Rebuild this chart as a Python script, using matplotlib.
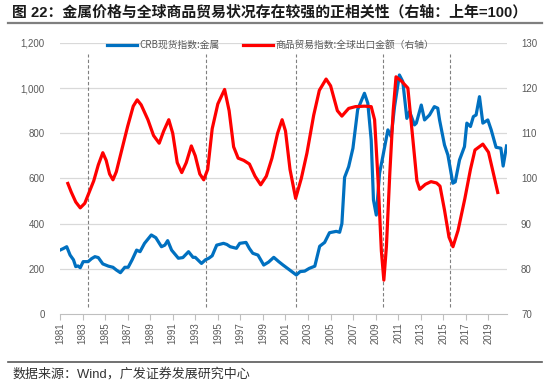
import matplotlib
matplotlib.use('Agg')
import matplotlib.pyplot as plt
from matplotlib.lines import Line2D

plt.rcParams['font.family'] = ['Liberation Sans', 'Noto Sans CJK SC', 'DejaVu Sans']

# CRB spot index: metals (left axis)
crb_year = [1981.0, 1981.3, 1981.6, 1981.9, 1982.2, 1982.4, 1982.6, 1982.8, 1983.06, 1983.5,
            1983.8, 1984.1, 1984.4, 1984.8, 1985.3, 1985.7, 1986.0, 1986.36, 1986.75, 1987.05,
            1987.4, 1987.8, 1988.1, 1988.5, 1989.1, 1989.5, 1990.0, 1990.3, 1990.55, 1990.9,
            1991.5, 1991.9, 1992.4, 1992.8, 1993.0, 1993.55, 1993.9, 1994.2, 1994.5, 1994.9,
            1995.5, 1995.8, 1996.1, 1996.65, 1996.94, 1997.5, 1997.8, 1998.1, 1998.56, 1999.07,
            1999.5, 1999.96, 2000.4, 2000.78, 2001.37, 2001.96, 2002.3, 2002.7, 2003.1, 2003.6,
            2004.03, 2004.47, 2004.9, 2005.5, 2005.8, 2006.0, 2006.24, 2006.6, 2006.98, 2007.4,
            2008.0, 2008.3, 2008.6, 2008.8, 2009.05, 2009.34, 2009.63, 2010.08, 2010.37, 2010.67,
            2011.1, 2011.4, 2011.76, 2012.0, 2012.44, 2012.6, 2013.04, 2013.33, 2013.77, 2014.2,
            2014.5, 2014.66, 2015.1, 2015.4, 2015.84, 2016.05, 2016.43, 2016.87, 2017.08, 2017.4,
            2017.66, 2017.9, 2018.2, 2018.5, 2018.94, 2019.24, 2019.67, 2020.1, 2020.3, 2020.6]
crb_value = [283, 290, 298, 261, 240, 210, 213, 205, 232, 232,
             245, 254, 250, 222, 212, 207, 195, 183, 207, 207,
             240, 283, 276, 313, 350, 338, 298, 305, 325, 283,
             247, 250, 276, 251, 251, 224, 240, 247, 258, 305,
             313, 308, 298, 291, 313, 317, 290, 269, 261, 217,
             230, 251, 232, 217, 195, 173, 188, 190, 202, 212,
             300, 317, 360, 366, 362, 400, 605, 652, 734, 905,
             977, 933, 770, 505, 438, 623, 697, 815, 785, 918,
             1058, 1029, 866, 896, 837, 845, 925, 859, 881, 918,
             911, 859, 748, 704, 579, 585, 682, 741, 845, 830,
             874, 881, 962, 845, 859, 815, 738, 734, 655, 744]

# global export value index, previous year = 100 (right axis)
trade_year = [1981.7, 1982.0, 1982.4, 1982.8, 1983.2, 1983.6, 1984.0, 1984.4, 1984.8, 1985.1,
              1985.4, 1985.7, 1986.0, 1986.5, 1987.0, 1987.5, 1987.85, 1988.2, 1988.8, 1989.3,
              1989.8, 1990.2, 1990.65, 1991.0, 1991.4, 1991.8, 1992.2, 1992.65, 1993.0, 1993.4,
              1993.75, 1994.1, 1994.5, 1995.0, 1995.6, 1996.0, 1996.4, 1996.8, 1997.3, 1997.8,
              1998.3, 1998.8, 1999.3, 1999.8, 2000.3, 2000.7, 2001.0, 2001.4, 2001.9, 2002.4,
              2002.9, 2003.5, 2004.0, 2004.6, 2005.0, 2005.6, 2006.0, 2006.6, 2007.2, 2008.0,
              2008.6, 2008.9, 2009.2, 2009.5, 2009.72, 2009.95, 2010.25, 2010.55, 2010.8, 2011.3,
              2011.85, 2012.3, 2012.65, 2012.9, 2013.4, 2013.9, 2014.4, 2014.7, 2015.1, 2015.5,
              2015.85, 2016.3, 2016.9, 2017.4, 2017.8, 2018.5, 2019.0, 2019.4, 2019.82]
trade_value = [98.9, 97.0, 94.8, 93.5, 94.5, 97.0, 99.5, 103.0, 105.7, 104.0,
               101.0, 99.7, 101.5, 106.5, 111.5, 116.0, 117.4, 116.3, 113.0, 109.5,
               107.8, 110.5, 113.0, 110.0, 103.5, 101.3, 103.5, 107.2, 105.0, 101.0,
               99.7, 102.0, 111.0, 116.5, 119.7, 115.0, 107.0, 104.5, 104.0, 103.2,
               100.5, 98.6, 100.5, 104.5, 110.0, 113.0, 110.5, 102.0, 95.6, 100.0,
               105.6, 114.0, 119.5, 122.0, 120.5, 115.0, 113.8, 115.5, 115.9, 116.0,
               115.9, 113.0, 100.0, 84.0, 77.5, 85.0, 101.2, 115.0, 122.5, 121.5,
               120.0, 108.5, 99.5, 97.6, 98.7, 99.3, 99.0, 98.3, 93.0, 87.0,
               84.9, 88.5, 95.5, 102.0, 106.3, 107.6, 105.8, 101.5, 96.9]

# dashed markers for trough years
dash_years = [1983.45, 1993.95, 2001.97, 2009.62, 2015.55]

year_ticks = list(range(1981, 2020, 2))
left_ticks = [0, 200, 400, 600, 800, 1000, 1200]
right_ticks = [70, 80, 90, 100, 110, 120, 130]

grey = '#595959'

fig = plt.figure(figsize=(5.5, 3.83), dpi=100)
ax = fig.add_axes([0.109, 0.180, 0.813, 0.708])
ax2 = ax.twinx()

for y in left_ticks[1:]:
    ax.axhline(y, color='#d9d9d9', lw=0.9, zorder=0)
for x in dash_years:
    ax.plot([x, x], [30, 1150], color='#7f7f7f', lw=0.8, ls=(0, (3, 2)), zorder=1)

ax.plot(crb_year, crb_value, color='#0070c0', lw=2.3, solid_joinstyle='round', zorder=3)
ax2.plot(trade_year, trade_value, color='#ff0000', lw=2.3, solid_joinstyle='round', zorder=3)

ax.set_xlim(1981, 2020.65)
ax.set_ylim(0, 1200)
ax2.set_ylim(70, 130)
ax.set_yticks(left_ticks)
ax.set_yticklabels([f'{v:,}' for v in left_ticks])
ax2.set_yticks(right_ticks)
ax.set_xticks(year_ticks)
ax.set_xticklabels([str(y) for y in year_ticks], rotation=90)

for a in (ax, ax2):
    for s in ('top', 'left', 'right', 'bottom'):
        a.spines[s].set_visible(False)
ax.spines['bottom'].set_visible(True)
ax.spines['bottom'].set_color('#bfbfbf')
ax.tick_params(axis='x', colors='#bfbfbf', labelcolor=grey, labelsize=7, length=4, width=0.8, pad=2)
ax.tick_params(axis='y', length=0, labelcolor=grey, labelsize=7, pad=11)
ax2.tick_params(axis='y', length=0, labelcolor=grey, labelsize=7, pad=10)

handles = [Line2D([], [], color='#0070c0', lw=2.3), Line2D([], [], color='#ff0000', lw=2.3)]
labels = ['CRB现货指数:金属', '商品贸易指数:全球出口金额（右轴）']
leg = fig.legend(handles, labels, loc='center left', bbox_to_anchor=(0.195, 0.882), ncol=2,
                 frameon=False, fontsize=7, handlelength=3.1, columnspacing=2.4,
                 handletextpad=0.2, borderaxespad=0, borderpad=0)
for t in leg.get_texts():
    t.set_color(grey)
    t.set_family(['Noto Sans CJK SC', 'DejaVu Sans'])

fig.text(0.022, 0.967, '图 22：金属价格与全球商品贸易状况存在较强的正相关性（右轴：上年=100）',
         fontsize=10.7, fontweight='bold', color='#1a1a1a', va='center', ha='left')
fig.add_artist(Line2D([0.015, 0.985], [0.941, 0.941], color='#7f7f7f', lw=1.6))
fig.add_artist(Line2D([0.015, 0.985], [0.055, 0.055], color='#595959', lw=1.2))
fig.text(0.022, 0.022, '数据来源：Wind，广发证券发展研究中心', fontsize=9.4,
         color='#333333', va='center', ha='left')

fig.savefig('out.png', dpi=100)
